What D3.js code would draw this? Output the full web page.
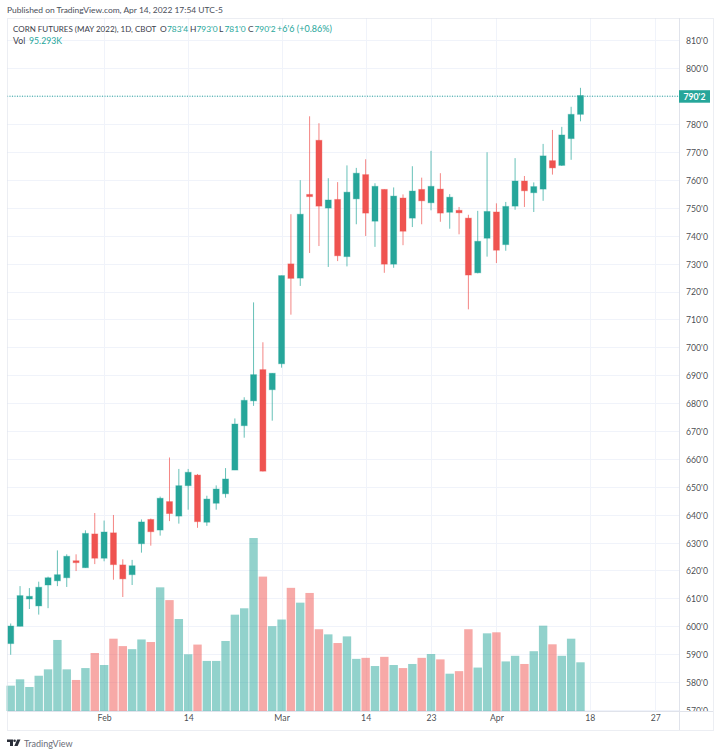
<!DOCTYPE html>
<html>
<head>
<meta charset="utf-8">
<script src="https://cdn.jsdelivr.net/npm/d3@7"></script>
<style>
  html, body { margin: 0; padding: 0; background: #fff; }
  text { font-family: Lato, sans-serif; }
</style>
</head>
<body>
<div id="viz"></div>
<script>
// corn futures daily candles
const opens = [
  593.8,600,609.8,607.3,614.8,616.3,617.4,623.5,621,633.1,
  624.4,633.5,622,618.5,629.6,638.3,634.5,644.7,639.5,650.4,
  654.2,637.3,644.1,647.5,656,671.9,680.8,692,684.8,694.1,
  729.9,724.8,754.8,774.2,749.9,753,732.5,753.2,761.9,745.2,
  756.6,729.8,753.5,746.3,756.6,751.8,756.7,748.4,749.1,746.3,
  726.7,739.1,748.5,736.8,750.6,759.6,755.4,756.7,766.9,765.2,
  774.8,783.5
];
const highs = [
  601,614.4,613.7,616,617.8,627.2,625.8,625.8,634.4,640.6,
  637.9,639.9,624,623.8,638.3,638.6,646.5,660.5,656.4,656.4,
  654.6,646.8,650.5,656.7,674.5,682.1,716.1,701.8,690.7,725.7,
  747.7,759.9,782.8,780.3,760.6,759.2,765.2,764.3,767.4,758.8,
  756.6,757.3,754.8,764.9,760.8,770.4,762.4,754.9,750.3,747.5,
  748.9,769.9,751.6,752.1,767.8,761.4,759.1,772.9,777.9,779,
  786.2,793
];
const lows = [
  589.8,600,606.2,604.2,606.5,614.4,614.1,619.8,621,622.3,
  623.3,616.7,610.5,614.8,626.4,628.9,632.5,637.7,636.8,641.8,
  635.3,636,641.8,646.1,656,667.6,679,655.5,673.7,692.7,
  711.7,722,733.8,736.3,728.8,730.9,729,744.1,739.9,736,
  726.7,728.5,736.6,743.1,744.1,749.1,745,742.5,740.5,713.6,
  726.5,732.5,730.2,734.6,749.3,750.3,748.5,752.5,761.9,765,
  767.2,781
];
const closes = [
  600.1,611,610.75,614,617.4,618.5,625.1,622.8,633.3,624.4,
  633.8,622.1,617,621.7,637.4,633.9,645.9,640.4,650.4,655.2,
  637.5,645.6,649.2,652.8,672.5,681,690.2,655.6,690.7,725.7,
  724.7,747.7,754,750.6,752.8,732.8,755.6,762.4,748.1,757.7,
  729.8,754.2,741.6,756,752.5,757.7,748.1,753.8,748.2,725.9,
  738,748.7,734.8,750.5,759.6,756.1,757.6,768.6,764.3,776.1,
  783.5,790.25
];
// volume in thousands
const volumes = [
  49.6,62,47,69,81.5,139,81.5,60.7,84,113.5,
  90,141.5,127,121,140,135,242,217,180,111,
  130,98,98,137,188.5,201,338.5,263,166,179,
  241,212,231,160,150,133,146,102,104,88,
  106,90,84,92,104,111.5,101,73,78,160,
  85,152,154,97,108,92,117,167,130.5,108,
  141.5,95.293
];
const priceTicks = d3.range(570, 820, 10);
const timeTickBars = [10, 19, 29, 38, 45, 52, 62, 69];
const timeTickLabels = ["Feb", "14", "Mar", "14", "23", "Apr", "18", "27"];
const lastPrice = 790.25;
const lastPriceLabel = "790'2";

const up_color = "#26a69a",
      down_color = "#ef5350",
      grid_color = "#f0f3fa",
      border_color = "#e0e3eb",
      text_color = "#131722";

const width = 720,
      height = 755,
      plot = {left: 7, right: 679, top: 18, bottom: 711, frame_right: 713, frame_bottom: 730};

const svg = d3.select("#viz").append("svg")
  .attr("width", width)
  .attr("height", height)
  .style("display", "block");

const x = d3.scaleLinear().domain([0, 69]).range([10.7, 655.2]),
      y = d3.scaleLinear().domain([570, 810]).range([710, 40.4]),
      vol_y = d3.scaleLinear().domain([0, 100]).range([plot.bottom, plot.bottom - 51.1]);

const isUp = i => closes[i] >= opens[i];
const barColor = i => isUp(i) ? up_color : down_color;
const bars = d3.range(closes.length);

//grid lines
const grid = svg.append("g").style("stroke", grid_color).style("stroke-width", 1);
grid.selectAll("line.h").data(priceTicks).join("line")
  .attr("class", "h")
  .attr("x1", plot.left).attr("x2", plot.right)
  .attr("y1", d => Math.round(y(d)) + 0.5).attr("y2", d => Math.round(y(d)) + 0.5);
grid.selectAll("line.v").data(timeTickBars).join("line")
  .attr("class", "v")
  .attr("y1", plot.top).attr("y2", plot.bottom)
  .attr("x1", d => Math.round(x(d)) + 0.5).attr("x2", d => Math.round(x(d)) + 0.5);

//volume underneath the candles
svg.append("g").selectAll("rect").data(bars).join("rect")
  .attr("x", i => x(i) - 4.2)
  .attr("width", 8.4)
  .attr("y", i => vol_y(volumes[i]))
  .attr("height", i => plot.bottom - vol_y(volumes[i]))
  .style("fill", barColor)
  .style("fill-opacity", 0.5);

//last price dotted line
svg.append("line")
  .attr("x1", plot.left).attr("x2", plot.right)
  .attr("y1", y(lastPrice) + 0.7).attr("y2", y(lastPrice) + 0.7)
  .style("stroke", up_color)
  .style("stroke-width", 1)
  .style("stroke-dasharray", "1 1.5");

//candles
const candles = svg.append("g");
candles.selectAll("line").data(bars).join("line")
  .attr("x1", x).attr("x2", x)
  .attr("y1", i => y(highs[i]))
  .attr("y2", i => y(lows[i]))
  .style("stroke", barColor)
  .style("stroke-width", 1)
  .style("stroke-opacity", 0.7);
candles.selectAll("rect").data(bars).join("rect")
  .attr("x", i => x(i) - 3)
  .attr("width", 6)
  .attr("y", i => y(Math.max(opens[i], closes[i])))
  .attr("height", i => Math.max(1.5, Math.abs(y(opens[i]) - y(closes[i]))))
  .style("fill", barColor)
  .style("stroke", barColor)
  .style("stroke-opacity", 0.35);

//frame and axis borders
svg.append("rect")
  .attr("x", plot.left + 0.5).attr("y", plot.top + 0.5)
  .attr("width", plot.frame_right - plot.left)
  .attr("height", plot.frame_bottom - plot.top)
  .style("fill", "none")
  .style("stroke", border_color)
  .style("stroke-opacity", 0.6);
svg.append("line")
  .attr("x1", plot.right + 0.5).attr("x2", plot.right + 0.5)
  .attr("y1", plot.top).attr("y2", plot.frame_bottom)
  .style("stroke", border_color);
svg.append("line")
  .attr("x1", plot.left).attr("x2", plot.frame_right)
  .attr("y1", plot.bottom + 0.5).attr("y2", plot.bottom + 0.5)
  .style("stroke", border_color);

//axes
svg.append("defs").append("clipPath").attr("id", "price-clip")
  .append("rect")
  .attr("x", 0).attr("y", plot.top)
  .attr("width", plot.frame_right - plot.right)
  .attr("height", plot.bottom - plot.top);

const price_axis = svg.append("g")
  .attr("transform", `translate(${plot.right},0)`)
  .attr("clip-path", "url(#price-clip)")
  .call(d3.axisRight(y).tickValues(priceTicks.filter(d => d !== 790)).tickSize(0).tickPadding(7)
    .tickFormat(d => d + "'0"));
price_axis.select(".domain").remove();
price_axis.selectAll("text")
  .attr("dy", "0.4em")
  .style("font-family", "Lato, sans-serif")
  .style("font-size", "8.7px")
  .style("fill", text_color)
  .style("fill-opacity", 0.8);

const time_axis = svg.append("g")
  .attr("transform", `translate(0,${plot.bottom})`)
  .call(d3.axisBottom(x).tickValues(timeTickBars).tickSize(0).tickPadding(4)
    .tickFormat(d => timeTickLabels[timeTickBars.indexOf(d)]));
time_axis.select(".domain").remove();
time_axis.selectAll("text")
  .style("font-family", "Lato, sans-serif")
  .style("font-size", "8.7px")
  .style("fill", text_color)
  .style("fill-opacity", 0.8);

//last price tag
svg.append("rect")
  .attr("x", plot.right).attr("y", y(lastPrice) - 5.3)
  .attr("width", 31).attr("height", 12.5)
  .style("fill", up_color);
svg.append("text")
  .attr("x", 694.5).attr("y", y(lastPrice) + 4)
  .attr("text-anchor", "middle")
  .style("font-size", "8.7px")
  .style("font-weight", 700)
  .style("fill", "#fff")
  .text(lastPriceLabel);

//header text
const addText = (str, tx, ty, color, size = 8.4) => svg.append("text")
  .attr("x", tx).attr("y", ty)
  .style("font-size", size + "px")
  .style("fill", color)
  .text(str);

addText("Published on TradingView.com, Apr 14, 2022 17:54 UTC-5", 7, 13, "#4a4e59", 8.45);
addText("CORN FUTURES (MAY 2022), 1D, CBOT", 13, 32, "#3c404b", 8);
addText("O", 160, 32, "#3c404b"); addText("783'4", 167, 32, up_color);
addText("H", 190, 32, "#3c404b"); addText("793'0", 196.5, 32, up_color);
addText("L", 219, 32, "#3c404b"); addText("781'0", 224.5, 32, up_color);
addText("C", 248, 32, "#3c404b"); addText("790'2", 254.5, 32, up_color);
addText("+6'6 (+0.86%)", 277, 32, up_color, 9);
addText("Vol", 13, 44, "#3c404b", 8.7);
addText("95.293K", 29, 44, up_color, 8.7);

//TradingView logo
const logo = svg.append("g").attr("transform", "translate(7,739.5)").style("fill", "#2a2e39");
logo.append("path").attr("d", "M0 0H6V6.5H3V2.4H0Z");
logo.append("circle").attr("cx", 7.6).attr("cy", 1.3).attr("r", 1.3);
logo.append("path").attr("d", "M10.2 0H13.5L10.6 6.5H7.3Z");
addText("TradingView", 24, 747, "#6a6d78", 9);
</script>
</body>
</html>
